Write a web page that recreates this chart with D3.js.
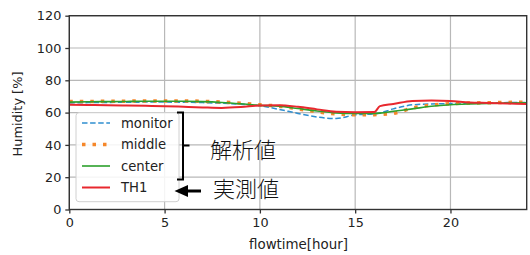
<!DOCTYPE html>
<html><head><meta charset="utf-8">
<script src="https://cdn.jsdelivr.net/npm/d3@7"></script>
<style>body{margin:0;background:#fff;}svg{display:block;}</style>
</head><body>
<svg id="c" width="530" height="255"></svg>
<script>
const hours = [0,1,2,3,4,5,6,7,8,9,10,11,12,13,14,15,16,16.3,17,18,19,20,21,22,23,24];
const monitor = [66.0,66.2,66.3,66.4,66.5,66.5,66.4,66.2,65.8,65.2,64.3,62.0,59.5,57.3,56.3,58.6,59.2,59.8,62.3,64.8,65.4,65.6,65.8,66.0,66.2,66.3];
const middle  = [66.8,66.9,67.0,67.1,67.2,67.2,67.2,67.0,66.5,65.8,64.8,64.0,62.3,60.5,59.2,58.6,58.7,58.9,59.5,62.8,64.6,65.5,65.9,66.1,66.3,66.5];
const center  = [66.5,66.7,66.8,66.9,67.0,67.0,67.0,66.8,66.3,65.5,64.5,64.0,62.5,61.0,59.8,59.4,59.5,59.7,60.8,62.3,63.9,64.9,65.4,65.7,65.9,66.0];
const TH1     = [64.8,64.7,64.6,64.4,64.2,64.0,63.6,63.2,62.9,63.4,64.4,64.6,63.6,62.0,60.5,60.2,60.3,64.0,65.3,67.2,67.5,67.2,66.3,66.0,65.6,65.3];
const seriesNames = ["monitor","middle","center","TH1"];
const xTicks = [0,5,10,15,20];
const yTicks = [0,20,40,60,80,100,120];
const xLabel = "flowtime[hour]";
const yLabel = "Humidity [%]";
const noteSim = "解析値";
const noteMeas = "実測値";

const svg = d3.select("#c");
const L = 69.3, R = 526.7, T = 15.7, B = 209.5;
const x = d3.scaleLinear().domain([0,24]).range([L,R]);
const y = d3.scaleLinear().domain([0,120]).range([B,T]);
const font = "DejaVu Sans, sans-serif";

// grid
svg.append("g").selectAll("line").data(xTicks).join("line")
  .attr("x1",d=>x(d)).attr("x2",d=>x(d)).attr("y1",T).attr("y2",B)
  .attr("stroke","#b8b8b8").attr("stroke-width",1.2);
svg.append("g").selectAll("line").data(yTicks).join("line")
  .attr("x1",L).attr("x2",R).attr("y1",d=>y(d)).attr("y2",d=>y(d))
  .attr("stroke","#b8b8b8").attr("stroke-width",1.2);

// axes
const xa = svg.append("g").attr("transform",`translate(0,${B})`)
  .call(d3.axisBottom(x).tickValues(xTicks).tickSize(4).tickPadding(4).tickFormat(d3.format("d")));
const ya = svg.append("g").attr("transform",`translate(${L},0)`)
  .call(d3.axisLeft(y).tickValues(yTicks).tickSize(4).tickPadding(4).tickFormat(d3.format("d")));
[xa,ya].forEach(a=>{
  a.select(".domain").remove();
  a.selectAll("line").attr("stroke","#333").attr("stroke-width",1.3);
  a.selectAll("text").attr("font-family",font).attr("font-size",12.8).attr("fill","#222");
});

const specs = [
  {name:"monitor", vals:monitor, color:"#2f8fd0", w:1.5, dash:"5.5,2.6"},
  {name:"middle", vals:middle, color:"#f5872a", w:3.5, dash:"3.5,7"},
  {name:"center", vals:center, color:"#2ca02c", w:1.6, dash:null},
  {name:"TH1", vals:TH1, color:"#e8282e", w:2.0, dash:null}
];
const line = d3.line().x(d=>x(d[0])).y(d=>y(d[1])).curve(d3.curveMonotoneX);
specs.forEach(s=>{
  svg.append("path").datum(hours.map((h,i)=>[h,s.vals[i]]))
    .attr("d",line).attr("fill","none").attr("stroke",s.color)
    .attr("stroke-width",s.w).attr("stroke-dasharray",s.dash);
});

// frame
svg.append("rect").attr("x",L).attr("y",T).attr("width",R-L).attr("height",B-T)
  .attr("fill","none").attr("stroke","#333").attr("stroke-width",1.4);

// legend
svg.append("rect").attr("x",76).attr("y",112.7).attr("width",103).attr("height",89)
  .attr("rx",3).attr("fill","#fff").attr("fill-opacity",0.85).attr("stroke","#d0d0d0");
const rowY = [123,144.5,166,187.5];
specs.forEach((s,i)=>{
  svg.append("line").attr("x1",82).attr("x2",110).attr("y1",rowY[i]).attr("y2",rowY[i])
    .attr("stroke",s.color).attr("stroke-width",s.w).attr("stroke-dasharray",s.dash);
  svg.append("text").attr("x",121).attr("y",rowY[i]).attr("dy","0.35em")
    .attr("font-family",font).attr("font-size",13.2).attr("fill","#222").text(seriesNames[i]);
});

// axis titles
svg.append("text").attr("x",298.5).attr("y",249).attr("text-anchor","middle")
  .attr("font-family",font).attr("font-size",13.4).attr("fill","#222").text(xLabel);
svg.append("text").attr("transform",`translate(22,114) rotate(-90)`).attr("text-anchor","middle")
  .attr("font-family",font).attr("font-size",12.9).attr("fill","#222").text(yLabel);

// bracket
svg.append("path").attr("d","M177,112.5 H183 V179.5 H177 M183,145.5 H189.5")
  .attr("fill","none").attr("stroke","#000").attr("stroke-width",2);
// arrow
svg.append("line").attr("x1",186).attr("x2",201).attr("y1",191).attr("y2",191)
  .attr("stroke","#000").attr("stroke-width",3);
svg.append("path").attr("d","M174.5,191 L188,185 L188,197 Z").attr("fill","#000");

const jp = "'Noto Sans CJK JP', sans-serif";
svg.append("text").attr("x",210).attr("y",150).attr("dy","0.35em")
  .attr("font-family",jp).attr("font-size",22).attr("font-weight",300).attr("fill","#111").text(noteSim);
svg.append("text").attr("x",213).attr("y",189).attr("dy","0.35em")
  .attr("font-family",jp).attr("font-size",22).attr("font-weight",300).attr("fill","#111").text(noteMeas);
</script>
</body></html>
